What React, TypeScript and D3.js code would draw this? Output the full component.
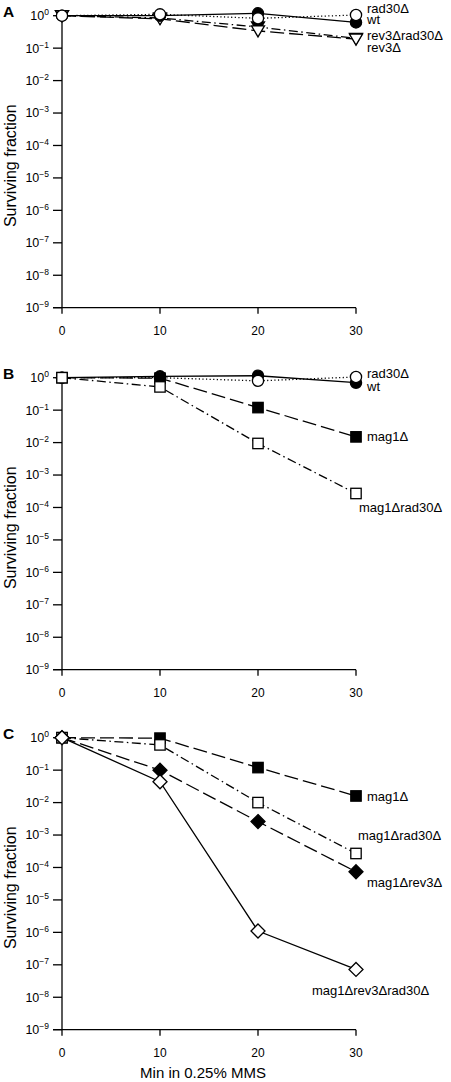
import React from "react";
import * as d3 from "d3";

const minutes = [0, 10, 20, 30];
const xTicks = [0, 10, 20, 30];
const yExponents = [0, -1, -2, -3, -4, -5, -6, -7, -8, -9];

// Panel A
const wtA = [1, 1.0, 1.18, 0.62];
const rad30A = [1, 1.1, 0.83, 1.05];
const rev3rad30A = [1, 0.85, 0.45, 0.2];
const rev3A = [1, 0.8, 0.34, 0.19];

// Panel B
const wtB = [1, 1.1, 1.15, 0.7];
const rad30B = [1, 1.0, 0.8, 1.05];
const mag1B = [1, 0.97, 0.12, 0.015];
const mag1rad30B = [1, 0.52, 0.0094, 0.00027];

// Panel C
const mag1C = [1, 0.97, 0.12, 0.016];
const mag1rad30C = [1, 0.6, 0.01, 0.00027];
const mag1rev3C = [1, 0.1, 0.0026, 0.000074];
const mag1rev3rad30C = [1, 0.044, 1.1e-6, 7.2e-8];

type Marker = "circleF" | "circleO" | "triF" | "triO" | "sqF" | "sqO" | "diaF" | "diaO";
type Series = { name: string; values: number[]; marker: Marker; dash: string; ldx: number; ldy: number };

const DOT = "1.2,2.4";
const DASH = "14,5";
const DASHDOT = "9,3.5,1.5,3.5";

const panels: { letter: string; y0: number; series: Series[]; showTitle: boolean }[] = [
  {
    letter: "A",
    y0: 15.7,
    showTitle: false,
    series: [
      { name: "rev3\u0394rad30\u0394", values: rev3rad30A, marker: "triF", dash: DASHDOT, ldx: 11, ldy: -3 },
      { name: "rev3\u0394", values: rev3A, marker: "triO", dash: DASH, ldx: 11, ldy: 8 },
      { name: "wt", values: wtA, marker: "circleF", dash: "", ldx: 11, ldy: -3 },
      { name: "rad30\u0394", values: rad30A, marker: "circleO", dash: DOT, ldx: 11, ldy: -7 },
    ],
  },
  {
    letter: "B",
    y0: 377.7,
    showTitle: false,
    series: [
      { name: "wt", values: wtB, marker: "circleF", dash: "", ldx: 11, ldy: 4 },
      { name: "rad30\u0394", values: rad30B, marker: "circleO", dash: DOT, ldx: 11, ldy: -4 },
      { name: "mag1\u0394", values: mag1B, marker: "sqF", dash: DASH, ldx: 11, ldy: 0 },
      { name: "mag1\u0394rad30\u0394", values: mag1rad30B, marker: "sqO", dash: DASHDOT, ldx: 3, ldy: 14 },
    ],
  },
  {
    letter: "C",
    y0: 737.7,
    showTitle: true,
    series: [
      { name: "mag1\u0394", values: mag1C, marker: "sqF", dash: DASH, ldx: 11, ldy: 0 },
      { name: "mag1\u0394rad30\u0394", values: mag1rad30C, marker: "sqO", dash: DASHDOT, ldx: 2, ldy: -18 },
      { name: "mag1\u0394rev3\u0394", values: mag1rev3C, marker: "diaF", dash: DASH, ldx: 11, ldy: 11 },
      { name: "mag1\u0394rev3\u0394rad30\u0394", values: mag1rev3rad30C, marker: "diaO", dash: "", ldx: -44, ldy: 21 },
    ],
  },
];

const FONT = "Arial, 'Liberation Sans', Helvetica, sans-serif";
const X0 = 62;
const X1 = 356;
const H = 292;

function MarkerShape({ m, x, y }: { m: Marker; x: number; y: number }) {
  const filled = m.endsWith("F");
  const fill = filled ? "#000" : "#fff";
  const common = { fill, stroke: "#000", strokeWidth: 1.3 };
  if (m.startsWith("circle")) return <circle cx={x} cy={y} r={5.6} {...common} />;
  if (m.startsWith("tri"))
    return <path d={`M${x - 6.5},${y - 5} L${x + 6.5},${y - 5} L${x},${y + 6} Z`} {...common} />;
  if (m.startsWith("sq")) return <rect x={x - 5.2} y={y - 5.2} width={10.4} height={10.4} {...common} />;
  return <path d={`M${x},${y - 7} L${x + 7},${y} L${x},${y + 7} L${x - 7},${y} Z`} {...common} />;
}

function Panel({ p }: { p: (typeof panels)[number] }) {
  const x = d3.scaleLinear().domain([0, 30]).range([X0, X1]);
  const y = d3.scaleLog().domain([1, 1e-9]).range([p.y0, p.y0 + H]);
  const yBottom = p.y0 + H;
  const line = d3
    .line<number>()
    .x((_, i) => x(minutes[i]))
    .y((v) => y(v));
  const midY = p.y0 + H / 2 + 4;
  return (
    <g>
      <text x={3} y={p.y0 + 1} fontFamily={FONT} fontWeight="bold" fontSize={15.5}>
        {p.letter}
      </text>
      <text
        transform={`translate(10,${midY}) rotate(-90)`}
        textAnchor="middle"
        dy="0.35em"
        fontFamily={FONT}
        fontSize={16}
      >
        Surviving fraction
      </text>
      <line x1={X0} x2={X0} y1={p.y0 - 1} y2={yBottom} stroke="#000" strokeWidth={1.3} />
      <line x1={53} x2={X1} y1={yBottom} y2={yBottom} stroke="#000" strokeWidth={1.3} />
      {yExponents.map((e) => {
        const yy = y(Math.pow(10, e));
        return (
          <g key={e}>
            <line x1={53} x2={X0} y1={yy} y2={yy} stroke="#000" strokeWidth={1.3} />
            <text x={49} y={yy} dy="0.35em" textAnchor="end" fontFamily={FONT} fontSize={12.5}>
              10
              <tspan fontSize={8.5} dy={-5}>
                {e === 0 ? "0" : "\u2212" + String(-e)}
              </tspan>
            </text>
          </g>
        );
      })}
      {xTicks.map((t) => (
        <g key={t}>
          <line x1={x(t)} x2={x(t)} y1={yBottom} y2={yBottom + 6} stroke="#000" strokeWidth={1.3} />
          <text x={x(t)} y={yBottom + 23} dy="0.35em" textAnchor="middle" fontFamily={FONT} fontSize={12}>
            {t}
          </text>
        </g>
      ))}
      {p.series.map((s) => (
        <path
          key={"l" + s.name}
          d={line(s.values) || ""}
          fill="none"
          stroke="#000"
          strokeWidth={1.3}
          strokeDasharray={s.dash || undefined}
        />
      ))}
      {p.series.map((s) => (
        <g key={"m" + s.name}>
          {s.values.map((v, i) => (
            <MarkerShape key={i} m={s.marker} x={x(minutes[i])} y={y(v)} />
          ))}
        </g>
      ))}
      {p.series.map((s) => {
        const last = s.values[s.values.length - 1];
        return (
          <text
            key={"t" + s.name}
            x={x(30) + s.ldx}
            y={y(last) + s.ldy}
            dy="0.35em"
            fontFamily={FONT}
            fontSize={13}
          >
            {s.name}
          </text>
        );
      })}
      {p.showTitle && (
        <text x={203} y={1073} dy="0.35em" textAnchor="middle" fontFamily={FONT} fontSize={15}>
          Min in 0.25% MMS
        </text>
      )}
    </g>
  );
}

export default function App() {
  return (
    <svg
      width={451}
      height={1082}
      style={{ position: "absolute", left: 0, top: 0, background: "#fff" }}
    >
      <rect width={451} height={1082} fill="#fff" />
      {panels.map((p) => (
        <Panel key={p.letter} p={p} />
      ))}
    </svg>
  );
}
